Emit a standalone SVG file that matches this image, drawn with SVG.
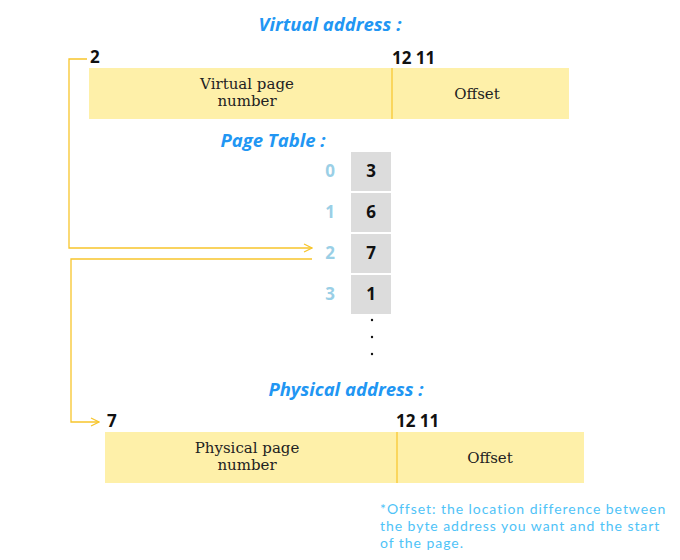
<svg xmlns="http://www.w3.org/2000/svg" width="680" height="560" viewBox="0 0 680 560">
<style>
.title{font-family:"Open Sans","Noto Sans",sans-serif;font-weight:bold;font-style:italic;font-size:18.5px;fill:#2196F3;text-anchor:middle}
.bar{fill:#FEF0A9}
.div{stroke:#F7C52B;stroke-width:1.2}
.bit{font-family:"Open Sans","Noto Sans",sans-serif;font-weight:bold;font-size:17px;fill:#111}
.lbl{font-family:"DejaVu Serif","Liberation Serif",serif;font-size:15px;fill:#222;text-anchor:middle}
.cell{fill:#DCDCDC}
.val{font-family:"Open Sans","Noto Sans",sans-serif;font-weight:bold;font-size:17px;fill:#111;text-anchor:middle}
.idx{font-family:"Open Sans","Noto Sans",sans-serif;font-weight:bold;font-size:17px;fill:#9ACFE6;text-anchor:middle}
.conn{fill:none;stroke:#F7C52B;stroke-width:1.3}
.note{font-family:Lato,"Open Sans",sans-serif;font-size:14px;letter-spacing:0.95px;fill:#4FC3F7}
</style>
<defs>
<marker id="arr" viewBox="0 0 10 10" refX="9" refY="5" markerWidth="10" markerHeight="10" markerUnits="userSpaceOnUse" orient="auto">
<path d="M1,1 L9,5 L1,9" fill="none" stroke="#F7C52B" stroke-width="1.2"/>
</marker>
</defs>
<rect width="680" height="560" fill="#fff"/>
<g id="virtual-address">
<text class="title" x="330" y="31">Virtual address :</text>
<text class="bit" x="90" y="63">2</text>
<text class="bit" x="392" y="64">12 11</text>
<rect class="bar" x="89" y="68" width="480" height="51"/>
<line class="div" x1="392" y1="68" x2="392" y2="119"/>
<text class="lbl" x="247" y="89">Virtual page</text>
<text class="lbl" x="247" y="106">number</text>
<text class="lbl" x="477" y="99">Offset</text>
</g>
<g id="page-table">
<text class="title" x="273" y="147">Page Table :</text>
<rect class="cell" x="351" y="152" width="40" height="39"/>
<rect class="cell" x="351" y="193" width="40" height="39"/>
<rect class="cell" x="351" y="234" width="40" height="39"/>
<rect class="cell" x="351" y="275" width="40" height="39"/>
<text class="idx" x="330" y="177">0</text>
<text class="idx" x="330" y="218">1</text>
<text class="idx" x="330" y="259">2</text>
<text class="idx" x="330" y="300">3</text>
<text class="val" x="371" y="177">3</text>
<text class="val" x="371" y="218">6</text>
<text class="val" x="371" y="259">7</text>
<text class="val" x="371" y="300">1</text>
<circle cx="372" cy="320" r="1.2" fill="#111"/>
<circle cx="372" cy="337" r="1.2" fill="#111"/>
<circle cx="372" cy="354" r="1.2" fill="#111"/>
</g>
<g id="physical-address">
<text class="title" x="346" y="396">Physical address :</text>
<text class="bit" x="107" y="427">7</text>
<text class="bit" x="396" y="427">12 11</text>
<rect class="bar" x="105" y="432" width="479" height="51"/>
<line class="div" x1="397" y1="432" x2="397" y2="483"/>
<text class="lbl" x="247" y="453">Physical page</text>
<text class="lbl" x="247" y="470">number</text>
<text class="lbl" x="490" y="463">Offset</text>
</g>
<g id="connectors">
<path class="conn" d="M87,59 H69 V248 H312" marker-end="url(#arr)"/>
<path class="conn" d="M312,259 H71 V422 H99" marker-end="url(#arr)"/>
</g>
<g id="footnote">
<text class="note" x="380" y="514">*Offset: the location difference between</text>
<text class="note" x="380" y="531">the byte address you want and the start</text>
<text class="note" x="380" y="548">of the page.</text>
</g>
</svg>
